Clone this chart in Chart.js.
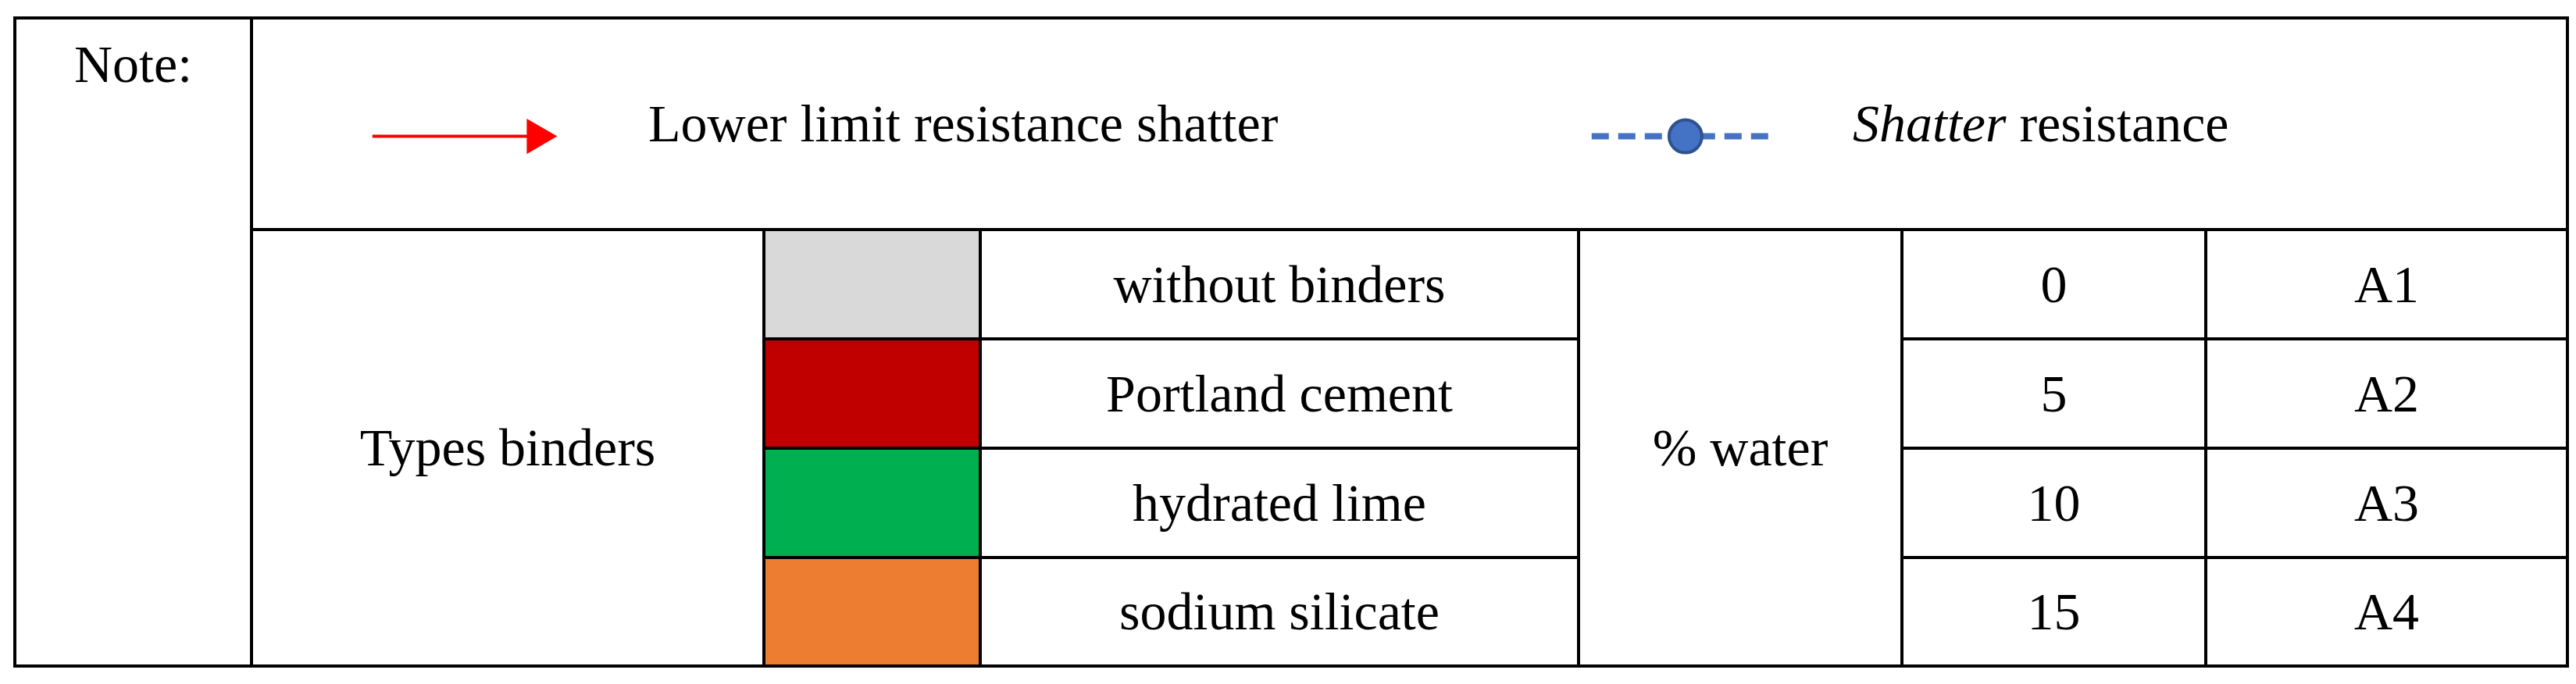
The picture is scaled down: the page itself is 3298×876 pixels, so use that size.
<!DOCTYPE html>
<html><head><meta charset="utf-8">
<script src="https://cdn.jsdelivr.net/npm/chart.js@4"></script>
<style>
html,body{margin:0;padding:0;background:#fff;width:3298px;height:876px;overflow:hidden;font-family:"Liberation Serif",serif;}
table{position:absolute;left:17px;top:21px;border-collapse:collapse;table-layout:fixed;width:3268px;font-size:68px;color:#000;}
td{border:4px solid #000;padding:0;text-align:center;vertical-align:middle;}
#wrap{position:absolute;left:0;top:0;width:3298px;height:876px;pointer-events:none;}
.t{position:absolute;font-size:68px;line-height:1;white-space:nowrap;transform:translateY(-50%);}
</style></head><body>
<script>
const binders=["without binders","Portland cement","hydrated lime","sodium silicate"];
const swatchColors=["#d9d9d9","#c00000","#00b050","#ed7d31"];
const water=[0,5,10,15];
const codes=["A1","A2","A3","A4"];
const legendLabels=["Lower limit resistance shatter","Shatter resistance"];
</script>
<table id="tb"></table>
<div id="wrap"><canvas id="c" width="3298" height="876"></canvas></div>
<script>
const tb=document.getElementById('tb');
let h='<colgroup><col style="width:303px"><col style="width:656px"><col style="width:277px"><col style="width:766px"><col style="width:414px"><col style="width:389px"><col style="width:463px"></colgroup>';
h+='<tr style="height:271px"><td rowspan="5" style="vertical-align:top;padding-top:18px">Note:</td><td colspan="6"></td></tr>';
for(let i=0;i<4;i++){
  h+='<tr style="height:'+(i==3?139:140)+'px">';
  if(i==0)h+='<td rowspan="4">Types binders</td>';
  h+='<td style="background:'+swatchColors[i]+'"></td><td>'+binders[i]+'</td>';
  if(i==0)h+='<td rowspan="4">% water</td>';
  h+='<td>'+water[i]+'</td><td>'+codes[i]+'</td></tr>';
}
tb.innerHTML=h;
const w=document.getElementById('wrap');
const s1=document.createElement('div');s1.className='t';s1.style.left='830px';s1.style.top='158px';s1.textContent=legendLabels[0];w.appendChild(s1);
const s2=document.createElement('div');s2.className='t';s2.style.left='2372px';s2.style.top='158px';s2.innerHTML='<i>Shatter</i> resistance';w.appendChild(s2);
new Chart(document.getElementById('c'),{type:'line',data:{datasets:[
 {data:[{x:458,y:158},{x:672,y:158}],borderColor:'#ff0000',backgroundColor:'#ff0000',borderWidth:4,pointRadius:[0,26],pointStyle:'triangle',rotation:90,pointBorderWidth:0},
 {data:[{x:2044,y:158},{x:2166,y:158},{x:2282,y:158}],borderColor:'#4472c4',borderDash:[22,12],borderWidth:8,pointRadius:[0,21,0],pointBackgroundColor:'#4472c4',pointBorderColor:'#2f528f',pointBorderWidth:4}
]},options:{responsive:false,animation:false,layout:{padding:0},plugins:{legend:{display:false},tooltip:{enabled:false}},
scales:{x:{type:'linear',min:0,max:3298,display:false},y:{type:'linear',min:0,max:876,reverse:true,display:false}}}});
</script>
</body></html>
